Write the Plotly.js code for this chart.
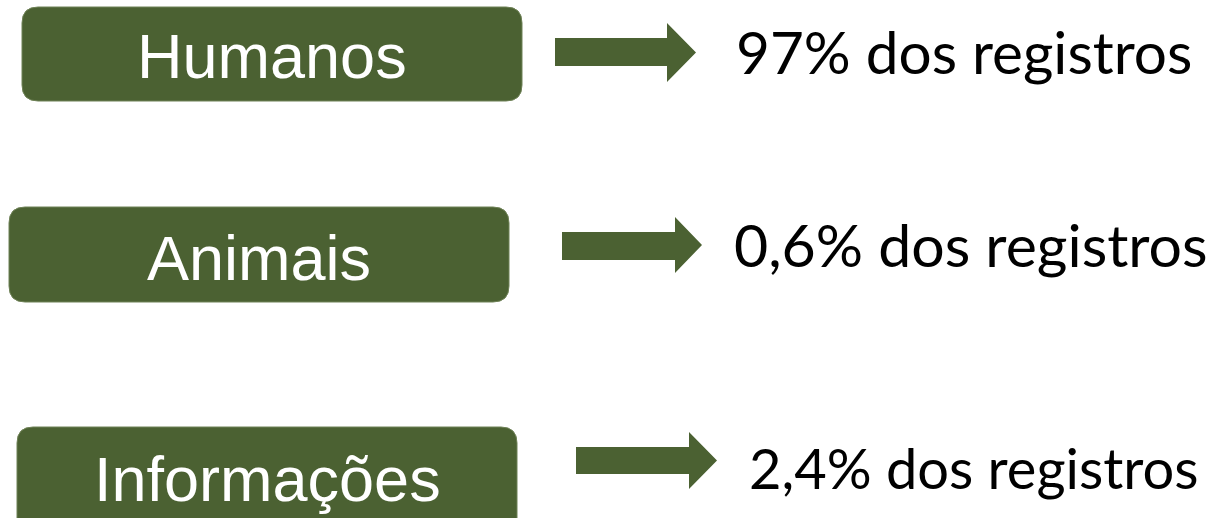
<!DOCTYPE html>
<html>
<head>
<meta charset="utf-8">
<script src="https://cdn.plot.ly/plotly-3.0.1.min.js"></script>
<style>html,body{margin:0;padding:0;background:#fff;}#chart{width:1227px;height:518px;}</style>
</head>
<body>
<div id="chart"></div>
<script>
// ---- data ----
var categories = ['Humanos', 'Animais', 'Informações'];
var shares = [97, 0.6, 2.4];            // % of records
var suffix = ' dos registros';

// ---- layout config (positions / styles, not data) ----
var GREEN = '#4b6132';
var rows = [
  {box: [22, 7, 522, 101],  labelX: 272, labelY: 56,  arrow: [555, 667, 696, 38, 66, 23, 82],   textX: 734, textY: 51,  size: 58.5},
  {box: [9, 207, 509, 302], labelX: 259, labelY: 258, arrow: [562, 675, 702, 232, 260, 217, 273], textX: 732, textY: 244, size: 59},
  {box: [17, 427, 517, 560], labelX: 267, labelY: 479, arrow: [576, 689, 717, 447, 474, 432, 489], textX: 747, textY: 467, size: 56}
];

function fmt(v) {
  return String(v).replace('.', ',') + '%' + suffix;
}
function roundRect(x0, y0, x1, y1, r) {
  return 'M' + (x0 + r) + ',' + y0 +
    ' L' + (x1 - r) + ',' + y0 + ' Q' + x1 + ',' + y0 + ' ' + x1 + ',' + (y0 + r) +
    ' L' + x1 + ',' + (y1 - r) + ' Q' + x1 + ',' + y1 + ' ' + (x1 - r) + ',' + y1 +
    ' L' + (x0 + r) + ',' + y1 + ' Q' + x0 + ',' + y1 + ' ' + x0 + ',' + (y1 - r) +
    ' L' + x0 + ',' + (y0 + r) + ' Q' + x0 + ',' + y0 + ' ' + (x0 + r) + ',' + y0 + ' Z';
}
function arrowPath(a) {
  var xs = a[0], xb = a[1], xt = a[2], sy0 = a[3], sy1 = a[4], hy0 = a[5], hy1 = a[6];
  var ym = (hy0 + hy1) / 2;
  return 'M' + xs + ',' + sy0 + ' L' + xb + ',' + sy0 + ' L' + xb + ',' + hy0 +
    ' L' + xt + ',' + ym + ' L' + xb + ',' + hy1 + ' L' + xb + ',' + sy1 +
    ' L' + xs + ',' + sy1 + ' Z';
}

var shapes = [], annotations = [];
categories.forEach(function (cat, i) {
  var r = rows[i];
  shapes.push({type: 'path', xref: 'x', yref: 'y', path: roundRect(r.box[0], r.box[1], r.box[2], r.box[3], 16),
    fillcolor: GREEN, line: {color: '#6f8257', width: 1}, layer: 'below'});
  shapes.push({type: 'path', xref: 'x', yref: 'y', path: arrowPath(r.arrow),
    fillcolor: GREEN, line: {width: 0}, layer: 'below'});
  annotations.push({x: r.labelX, y: r.labelY, xref: 'x', yref: 'y', text: cat, showarrow: false,
    xanchor: 'center', yanchor: 'middle',
    font: {family: 'Liberation Sans, Arial, sans-serif', size: 63, color: '#ffffff'}});
  annotations.push({x: r.textX, y: r.textY, xref: 'x', yref: 'y', text: fmt(shares[i]), showarrow: false,
    xanchor: 'left', yanchor: 'middle',
    font: {family: 'Lato, sans-serif', size: r.size, color: '#000000'}});
});

var layout = {
  width: 1227, height: 518,
  margin: {l: 0, r: 0, t: 0, b: 0},
  paper_bgcolor: '#ffffff', plot_bgcolor: '#ffffff',
  xaxis: {range: [0, 1227], visible: false, fixedrange: true},
  yaxis: {range: [518, 0], visible: false, fixedrange: true},
  showlegend: false,
  shapes: shapes,
  annotations: annotations
};

Plotly.newPlot('chart', [{x: [], y: [], type: 'scatter', hoverinfo: 'skip'}], layout, {staticPlot: true, displayModeBar: false});
</script>
</body>
</html>
